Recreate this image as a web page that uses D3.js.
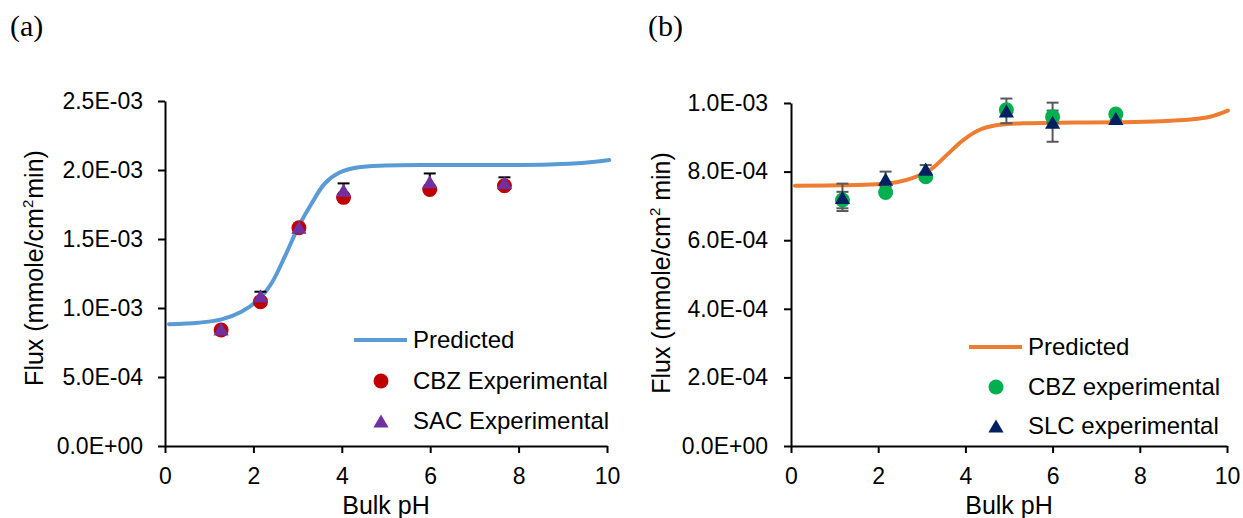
<!DOCTYPE html>
<html lang="en">
<head>
    <meta charset="UTF-8">
    <title>Flux vs Bulk pH</title>
    <script src="https://d3js.org/d3.v7.min.js"></script>
    <style>
        body { margin: 0; background: #fff; }
        text { font-family: "Liberation Sans", Arial, sans-serif; fill: #000; }
        .panel-label { font-family: "Liberation Serif", "Times New Roman", serif; font-size: 30px; }
        .tick text { font-size: 23px; }
        .axis-title { font-size: 25px; }
        .legend text { font-size: 24px; }
    </style>
</head>
<body>
    <svg width="1243" height="518"></svg>
    <script>
        // ---- panel (a) data: flux in mmole/cm2 min
        const phA = [1.27, 2.16, 3.03, 4.04, 5.99, 7.68];
        const cbzA = [0.841e-3, 1.046e-3, 1.582e-3, 1.802e-3, 1.859e-3, 1.886e-3];
        const sacA = [0.848e-3, 1.088e-3, 1.585e-3, 1.853e-3, 1.915e-3, 1.909e-3];
        const sacErrA = [0, 0.030e-3, 0, 0.050e-3, 0.060e-3, 0.038e-3];
        const predPhA = [0.09, 0.75, 1.28, 1.73, 2.11, 2.41, 2.71, 3.02, 3.32, 3.62, 3.95, 4.35, 4.98, 6.0, 7.0, 8.7, 9.5, 10.05];
        const predA = [0.882e-3, 0.893e-3, 0.918e-3, 0.973e-3, 1.058e-3, 1.179e-3, 1.372e-3, 1.589e-3, 1.759e-3, 1.904e-3,
                       1.982e-3, 2.018e-3, 2.032e-3, 2.036e-3, 2.036e-3, 2.040e-3, 2.052e-3, 2.072e-3];
        const yTicksA = [0, 0.5e-3, 1.0e-3, 1.5e-3, 2.0e-3, 2.5e-3];

        // ---- panel (b) data
        const phB = [1.18, 2.17, 3.09, 4.94, 6.0, 7.45];
        const cbzB = [0.717e-3, 0.739e-3, 0.785e-3, 0.980e-3, 0.960e-3, 0.968e-3];
        const cbzErrB = [0.024e-3, 0, 0, 0, 0.018e-3, 0];
        const slcB = [0.725e-3, 0.778e-3, 0.807e-3, 0.977e-3, 0.944e-3, 0.955e-3];
        const slcErrB = [0.040e-3, 0.022e-3, 0.012e-3, 0.036e-3, 0.057e-3, 0.004e-3];
        const predPhB = [0.09, 1.12, 1.96, 2.42, 2.80, 3.19, 3.57, 3.95, 4.33, 4.70, 5.33, 6.5, 7.62, 8.5, 9.15, 9.61, 10.02];
        const predB = [0.759e-3, 0.760e-3, 0.763e-3, 0.769e-3, 0.782e-3, 0.805e-3, 0.848e-3, 0.892e-3, 0.922e-3,
                       0.935e-3, 0.941e-3, 0.943e-3, 0.944e-3, 0.947e-3, 0.952e-3, 0.960e-3, 0.978e-3];
        const yTicksB = [0, 0.2e-3, 0.4e-3, 0.6e-3, 0.8e-3, 1.0e-3];

        const xTicks = [0, 2, 4, 6, 8, 10];

        const svg = d3.select("svg");

        // Excel-like "2.5E-03"
        function sci(v) {
            const parts = d3.format(".1e")(v).split("e");
            const e = +parts[1];
            return parts[0] + "E" + (e < 0 ? "-" : "+") + String(Math.abs(e)).padStart(2, "0");
        }

        const triangle = d3.symbol().type(d3.symbolTriangle).size(100);
        const triShift = Math.sqrt(100 / (3 * Math.sqrt(3))) / 2; // centre the triangle's box on the point

        function drawPanel(p) {
            const x = d3.scaleLinear().domain([0, 10]).range([p.left, p.right]);
            const y = d3.scaleLinear().domain([0, p.yMax]).range([446, p.top]);

            const g = svg.append("g");

            // axes
            g.append("g")
                .attr("transform", `translate(0,${y(0)})`)
                .call(d3.axisBottom(x).tickValues(xTicks).tickSize(7).tickSizeOuter(0).tickPadding(15))
                .call(a => a.selectAll("line, path").attr("stroke", "#000").attr("stroke-width", 2))
                .call(a => a.selectAll("text").attr("font-family", null).attr("font-size", null));

            g.append("g")
                .attr("transform", `translate(${x(0)},0)`)
                .call(d3.axisLeft(y).tickValues(p.yTicks).tickFormat(sci).tickSize(7).tickSizeOuter(0).tickPadding(p.yPad))
                .call(a => a.selectAll("line, path").attr("stroke", "#000").attr("stroke-width", 2))
                .call(a => a.selectAll("text").attr("font-family", null).attr("font-size", null));

            // axis titles
            g.append("text")
                .attr("class", "axis-title")
                .attr("text-anchor", "middle")
                .attr("x", (p.left + p.right) / 2)
                .attr("y", 514)
                .text("Bulk pH");

            const yt = g.append("text")
                .attr("class", "axis-title")
                .attr("text-anchor", "middle")
                .attr("transform", `translate(${p.titleX},${p.titleY}) rotate(-90)`);
            yt.append("tspan").text("Flux (mmole/cm");
            yt.append("tspan").attr("font-size", 15).attr("dy", -10).text("2");
            yt.append("tspan").attr("dy", 10).attr("dx", p.supGap).text(p.supSpace + "min)");

            // panel label
            svg.append("text")
                .attr("class", "panel-label")
                .attr("x", p.labelX)
                .attr("y", 36)
                .text(p.label);

            // predicted curve
            const line = d3.line()
                .x((d, i) => x(p.predPh[i]))
                .y(d => y(d))
                .curve(d3.curveCatmullRom.alpha(0.5));

            g.append("path")
                .datum(p.pred)
                .attr("fill", "none")
                .attr("stroke", p.lineColor)
                .attr("stroke-width", 4)
                .attr("stroke-linecap", "round")
                .attr("d", line);

            // error bars (under the markers)
            p.errors.forEach(e => {
                const eb = g.append("g")
                    .selectAll("g")
                    .data(e.vals.map((v, i) => ({ x: e.ph[i], v: v, err: e.err[i] })).filter(d => d.err > 0))
                    .enter().append("g")
                    .attr("stroke", p.errColor)
                    .attr("stroke-width", 2);
                const lo = d => e.plusOnly ? d.v : d.v - d.err;
                eb.append("line")
                    .attr("x1", d => x(d.x)).attr("x2", d => x(d.x))
                    .attr("y1", d => y(lo(d))).attr("y2", d => y(d.v + d.err));
                eb.append("line")
                    .attr("x1", d => x(d.x) - 6).attr("x2", d => x(d.x) + 6)
                    .attr("y1", d => y(d.v + d.err)).attr("y2", d => y(d.v + d.err));
                if (!e.plusOnly) {
                    eb.append("line")
                        .attr("x1", d => x(d.x) - 6).attr("x2", d => x(d.x) + 6)
                        .attr("y1", d => y(d.v - d.err)).attr("y2", d => y(d.v - d.err));
                }
            });

            // circles
            g.append("g")
                .selectAll("circle")
                .data(p.circles)
                .enter().append("circle")
                .attr("cx", (d, i) => x(p.ph[i]))
                .attr("cy", d => y(d))
                .attr("r", 7.5)
                .attr("fill", p.circleColor);

            // triangles
            g.append("g")
                .selectAll("path")
                .data(p.triangles)
                .enter().append("path")
                .attr("d", triangle)
                .attr("transform", (d, i) => `translate(${x(p.ph[i])},${y(d) + triShift})`)
                .attr("fill", p.triColor);

            // legend
            const lg = g.append("g").attr("class", "legend");
            lg.append("line")
                .attr("x1", p.legX).attr("x2", p.legX + 53)
                .attr("y1", p.legY[0]).attr("y2", p.legY[0])
                .attr("stroke", p.lineColor).attr("stroke-width", 4);
            lg.append("circle")
                .attr("cx", p.legX + 27).attr("cy", p.legY[1]).attr("r", 7.5)
                .attr("fill", p.circleColor);
            lg.append("path")
                .attr("d", triangle)
                .attr("transform", `translate(${p.legX + 27},${p.legY[2] + triShift})`)
                .attr("fill", p.triColor);
            p.legText.forEach((t, i) => {
                lg.append("text")
                    .attr("x", p.legX + 59)
                    .attr("y", p.legY[i])
                    .attr("dy", "0.35em")
                    .text(t);
            });
        }

        drawPanel({
            label: "(a)", labelX: 10,
            left: 165, right: 607, top: 101, yMax: 2.5e-3, yTicks: yTicksA, yPad: 15,
            titleX: 43, titleY: 268, supGap: 1, supSpace: "",
            ph: phA, circles: cbzA, triangles: sacA,
            predPh: predPhA, pred: predA,
            errors: [{ ph: phA, vals: sacA, err: sacErrA, plusOnly: true }],
            lineColor: "#5B9BD5", circleColor: "#C00000", triColor: "#7030A0", errColor: "#000",
            legX: 354, legY: [340, 381, 421],
            legText: ["Predicted", "CBZ Experimental", "SAC Experimental"]
        });

        drawPanel({
            label: "(b)", labelX: 648,
            left: 791, right: 1227, top: 103, yMax: 1.0e-3, yTicks: yTicksB, yPad: 16,
            titleX: 670, titleY: 273, supGap: 0, supSpace: " ",
            ph: phB, circles: cbzB, triangles: slcB,
            predPh: predPhB, pred: predB,
            errors: [{ ph: phB, vals: slcB, err: slcErrB, plusOnly: false },
                     { ph: phB, vals: cbzB, err: cbzErrB, plusOnly: false }],
            lineColor: "#ED7D31", circleColor: "#00B050", triColor: "#002060", errColor: "#595959",
            legX: 969, legY: [347, 387, 426],
            legText: ["Predicted", "CBZ experimental", "SLC experimental"]
        });
    </script>
</body>
</html>
